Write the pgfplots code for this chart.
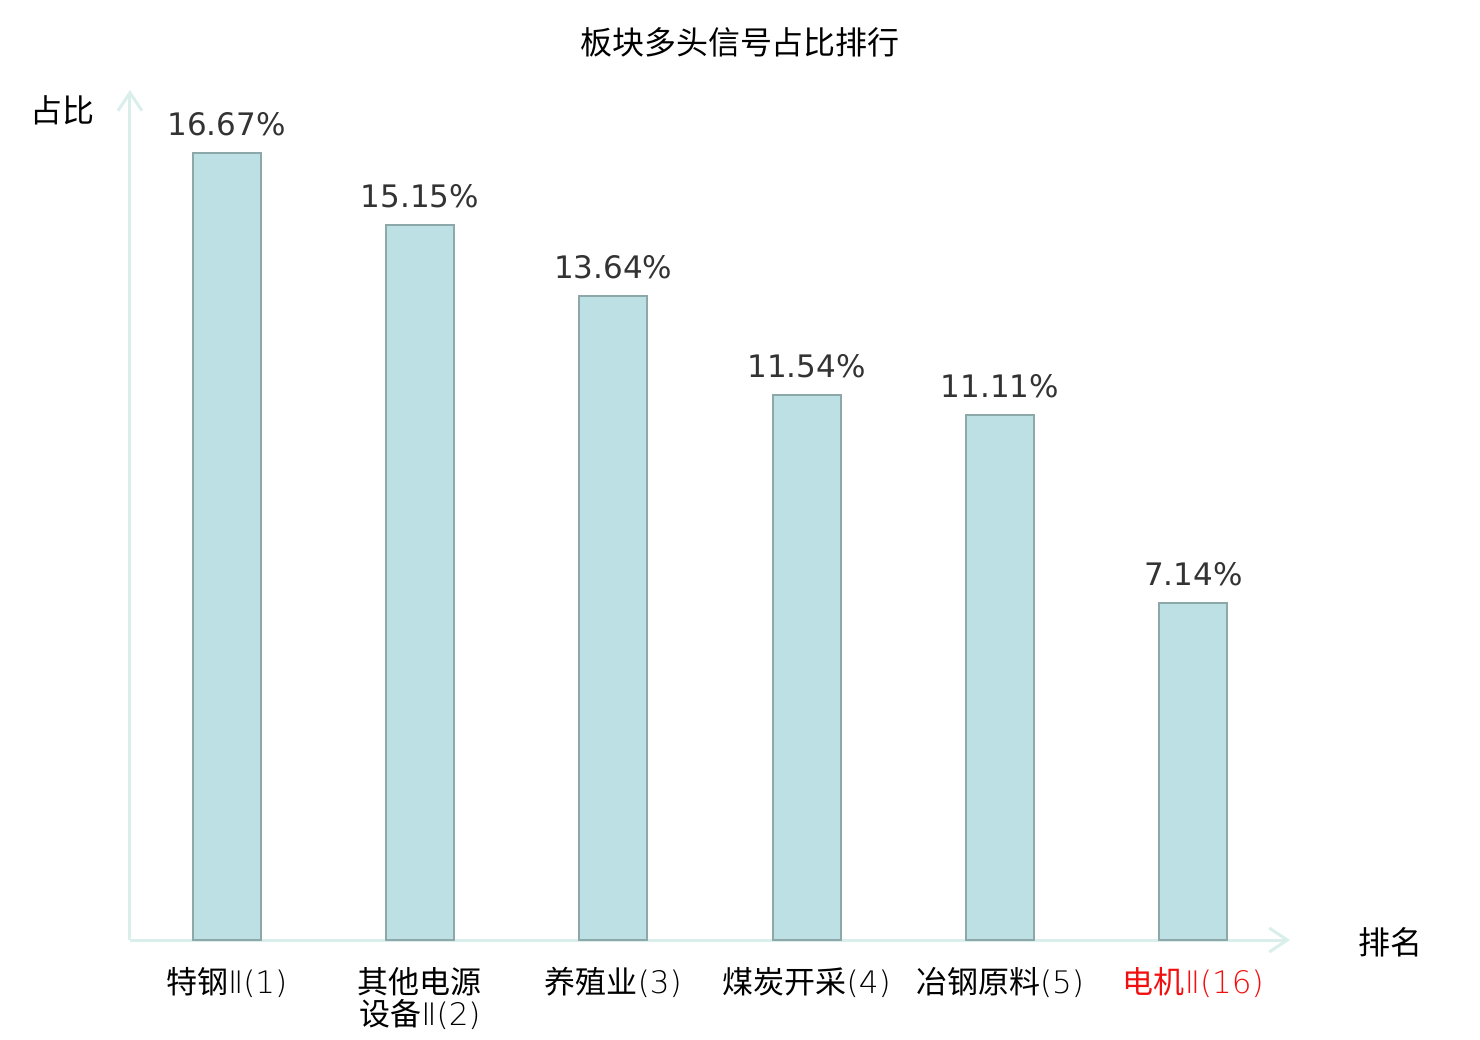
\documentclass[border=0pt]{standalone}
\usepackage{pgfplots}
\pgfplotsset{compat=1.18}
\usepackage{fontspec}
\setmainfont{DejaVu Sans}
\newfontfamily\cjk{Noto Sans CJK SC}
\newfontfamily\lightf{DejaVu Sans ExtraLight}
\usetikzlibrary{arrows.meta}
\definecolor{barfill}{HTML}{BCE0E3}
\definecolor{baredge}{HTML}{8DA8A9}
\definecolor{axcol}{HTML}{DAEFEC}
\definecolor{valcol}{HTML}{333333}
\definecolor{redlab}{HTML}{F01010}
\newcommand{\lt}[1]{{\lightf #1}}
\begin{document}
\begin{tikzpicture}
\path[use as bounding box] (-65pt,-50pt) rectangle (675pt,470pt);
\begin{axis}[
  at={(0,0)}, anchor=south west,
  scale only axis, width=580pt, height=425pt,
  xmin=-0.5, xmax=5.5, ymin=0, ymax=18,
  axis lines=left,
  axis line style={draw=axcol, line width=1.5pt, -{Straight Barb[length=9pt,width=12pt,line width=1.5pt]}},
  ytick=\empty,
  xtick={0,1,2,3,4,5},
  xticklabels={特钢\lt{Ⅱ(1)}, {其他电源\\设备\lt{Ⅱ(2)}}, 养殖业\lt{(3)}, 煤炭开采\lt{(4)}, 冶钢原料\lt{(5)}, {\textcolor{redlab}{电机\lt{Ⅱ(16)}}}},
  xticklabel style={font=\cjk\fontsize{15.5}{16}\selectfont, align=center, text=black, yshift=-10pt},
  major tick length=0pt,
  clip=false,
  nodes near coords={\pgfmathprintnumber[fixed,precision=2,fixed zerofill,assume math mode=true]{\pgfplotspointmeta}\%},
  nodes near coords style={font=\fontsize{15.5}{16}\selectfont, text=valcol, anchor=south, inner sep=0pt, yshift=8pt},
]
\addplot[ybar, bar width=34pt, fill=barfill, draw=baredge, line width=1pt]
  coordinates {(0,16.67) (1,15.15) (2,13.64) (3,11.54) (4,11.11) (5,7.14)};
\end{axis}
\node[font=\cjk\fontsize{16}{16}\selectfont] at (305pt,449pt) {板块多头信号占比排行};
\node[font=\cjk\fontsize{16}{16}\selectfont] at (-33.5pt,415pt) {占比};
\node[font=\cjk\fontsize{16}{16}\selectfont] at (630pt,-1pt) {排名};
\end{tikzpicture}
\end{document}
